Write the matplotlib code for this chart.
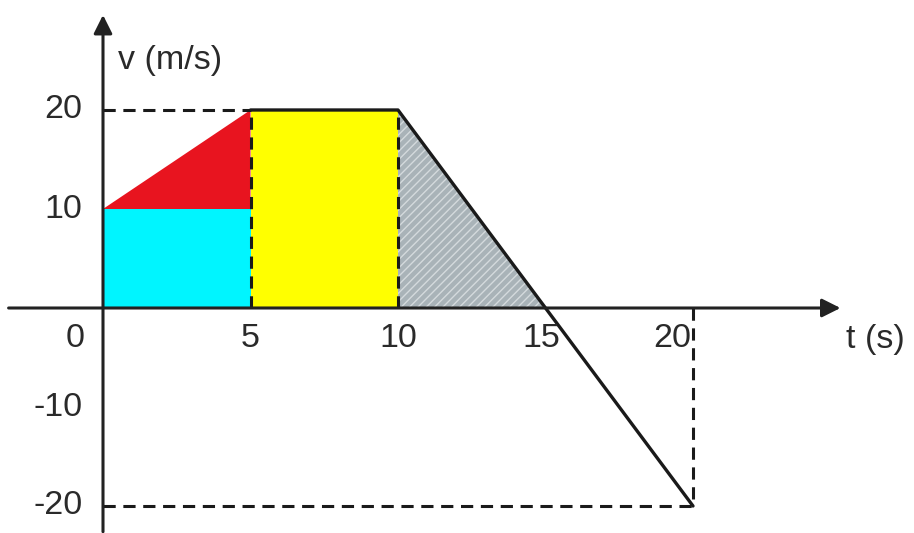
import matplotlib.pyplot as plt

# velocity-time graph
t_line = [5, 10, 20]
v_line = [20, 20, -20]

# shaded areas (t, v) polygons
cyan_t = [0, 5, 5, 0]
cyan_v = [0, 0, 10, 10]
red_t = [0, 5, 5]
red_v = [10, 20, 10]
yellow_t = [5, 10, 10, 5]
yellow_v = [0, 0, 20, 20]
gray_t = [10, 15, 10]
gray_v = [20, 0, 0]

x_ticks = [5, 10, 15, 20]
y_ticks = [20, 10, -10, -20]

plt.rcParams['font.family'] = ['Liberation Sans', 'DejaVu Sans']

fig = plt.figure(figsize=(9.14, 5.33), dpi=100)
ax = fig.add_axes([0, 0, 1, 1])
ax.set_xlim(-103 / 29.5, (914 - 103) / 29.5)
ax.set_ylim((308 - 533) / 9.9, 308 / 9.9)
ax.axis("off")

ax.fill(cyan_t, cyan_v, color="#00f5ff", lw=0, zorder=1)
ax.fill(red_t, red_v, color="#e8141f", lw=0, zorder=1)
ax.fill(yellow_t, yellow_v, color="#ffff00", lw=0, zorder=1)
ax.fill(gray_t, gray_v, facecolor="#a9b3b8", edgecolor="#d4dadd", hatch="////", lw=0, zorder=1)

dash = dict(color="#1a1a1a", lw=2.2, linestyle=(0, (4, 2.5)), zorder=2)
ax.plot([0, 5], [20, 20], **dash)
ax.plot([5, 5], [0, 20], **dash)
ax.plot([10, 10], [0, 20], **dash)
ax.plot([0, 20], [-20, -20], **dash)
ax.plot([20, 20], [0, -20], **dash)

ax.plot(t_line, v_line, color="#1a1a1a", lw=2.4, solid_capstyle="round", zorder=3)

# axes with arrows
arrow = dict(arrowstyle="-|>", lw=2.2, color="#222222", mutation_scale=28, shrinkA=0, shrinkB=0)
ax.annotate("", xy=(25.0, 0), xytext=(-3.2, 0), arrowprops=arrow, zorder=4)
ax.annotate("", xy=(0, 29.6), xytext=(0, -22.6), arrowprops=arrow, zorder=4)

fs = 24.5
txt = "#2a2a2a"
ax.text(0.5, 25, "v (m/s)", fontsize=fs, color=txt, ha="left", va="center")
ax.text(25.2, -3.2, "t (s)", fontsize=fs, color=txt, ha="left", va="center")
for v in y_ticks:
    ax.text(-0.7, v, str(v), fontsize=fs, color=txt, ha="right", va="center")
ax.text(-0.95, -3.1, "0", fontsize=fs, color=txt, ha="center", va="center")
for t in x_ticks:
    xpos = {15: 14.85, 20: 19.3}.get(t, t)
    ax.text(xpos, -3.1, str(t), fontsize=fs, color=txt, ha="center", va="center")

plt.savefig("out.png", dpi=100)
